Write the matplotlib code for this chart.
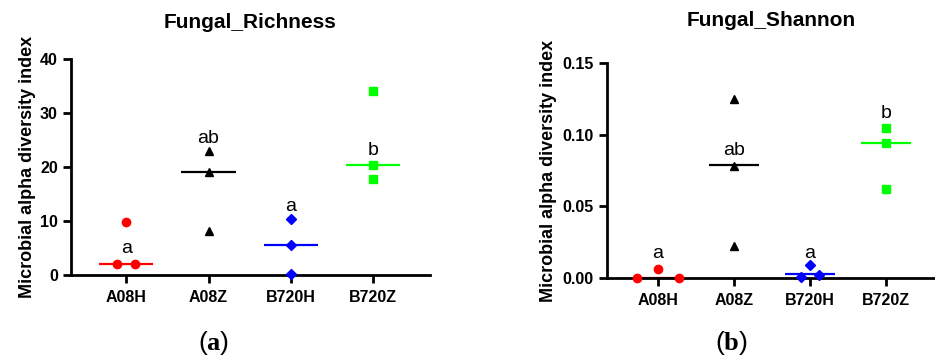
import numpy as np
import matplotlib
matplotlib.use("Agg")
import matplotlib.pyplot as plt

plt.rcParams["font.family"] = ["Liberation Sans", "DejaVu Sans"]
plt.rcParams["mathtext.fontset"] = "custom"
plt.rcParams["mathtext.rm"] = "Liberation Serif"
plt.rcParams["mathtext.bf"] = "Liberation Serif:bold"

groups = ["A08H", "A08Z", "B720H", "B720Z"]
colors = ["#ff0000", "#000000", "#0000ff", "#00ff00"]
markers = ["o", "^", "D", "s"]

# Fungal richness
richness = [[9.8, 2.0, 2.0], [23.0, 19.0, 8.2], [10.3, 5.5, 0.1], [34.0, 20.3, 17.8]]
richness_median = [2.0, 19.0, 5.6, 20.4]
richness_letters = ["a", "ab", "a", "b"]
richness_letter_y = [3.3, 23.7, 11.1, 21.5]

# Fungal shannon
shannon = [[0.006, 0.0, 0.0], [0.125, 0.078, 0.022], [0.009, 0.0005, 0.002], [0.105, 0.094, 0.062]]
shannon_median = [0.0, 0.079, 0.0025, 0.094]
shannon_letters = ["a", "ab", "a", "b"]
shannon_letter_y = [0.0114, 0.083, 0.0114, 0.109]

# horizontal jitter used for the points of each group (category units)
jitter_left = [[0, -0.11, 0.11], [0, 0, 0], [0, 0, 0], [0, 0, 0]]
jitter_right = [[0, -0.28, 0.28], [0, 0, 0], [0, -0.11, 0.12], [0, 0, 0]]

msizes = [6, 6, 4.8, 6]


def draw_panel(ax, values, medians, letters, letter_y, jitter, yticks, fmt, xlim):
    for i, (vals, med) in enumerate(zip(values, medians)):
        ax.plot([i - 0.33, i + 0.33], [med, med], color=colors[i], lw=1.6, zorder=2,
                solid_capstyle="butt")
        xs = np.array(jitter[i]) + i
        ax.plot(xs, vals, linestyle="none", marker=markers[i], color=colors[i],
                markersize=msizes[i], zorder=3, clip_on=False)
        ax.text(i, letter_y[i], letters[i], ha="center", va="bottom", fontsize=14)
    ax.set_xlim(*xlim)
    ax.set_ylim(yticks[0], yticks[-1])
    ax.set_yticks(yticks)
    ax.set_yticklabels([fmt.format(v) for v in yticks], fontweight="bold", fontsize=11.5)
    ax.set_xticks(range(len(groups)))
    ax.set_xticklabels(groups, fontweight="bold", fontsize=11.5)
    ax.spines["top"].set_visible(False)
    ax.spines["right"].set_visible(False)
    for s in ("left", "bottom"):
        ax.spines[s].set_linewidth(2.0)
    ax.tick_params(width=2.0, length=6, direction="out")
    ax.tick_params(axis="x", pad=5)
    ax.set_ylabel("Microbial alpha diversity index", fontweight="bold", fontsize=13)


fig = plt.figure(figsize=(9.35, 3.6), dpi=100)

ax1 = fig.add_axes([71 / 935, 1 - 275 / 360, 359 / 935, 216 / 360])
draw_panel(ax1, richness, richness_median, richness_letters, richness_letter_y,
           jitter_left, [0, 10, 20, 30, 40], "{:.0f}", (-0.67, 3.69))
ax1.yaxis.set_label_coords((36 - 71) / 359, 0.5)

ax2 = fig.add_axes([607 / 935, 1 - 278 / 360, 328 / 935, 215 / 360])
draw_panel(ax2, shannon, shannon_median, shannon_letters, shannon_letter_y,
           jitter_right, [0, 0.05, 0.10, 0.15], "{:.2f}", (-0.67, 3.65))
ax2.yaxis.set_label_coords((557 - 607) / 328, 0.5)

fig.text(250 / 935, 1 - 23 / 360, "Fungal_Richness", ha="center", va="center",
         fontsize=15, fontweight="bold")
fig.text(771 / 935, 1 - 20 / 360, "Fungal_Shannon", ha="center", va="center",
         fontsize=15, fontweight="bold")

fig.text(214 / 935, 1 - 343 / 360, r"($\mathbf{a}$)", ha="center", va="center", fontsize=19)
fig.text(731 / 935, 1 - 343 / 360, r"($\mathbf{b}$)", ha="center", va="center", fontsize=19)

fig.savefig("out.png", dpi=100)
